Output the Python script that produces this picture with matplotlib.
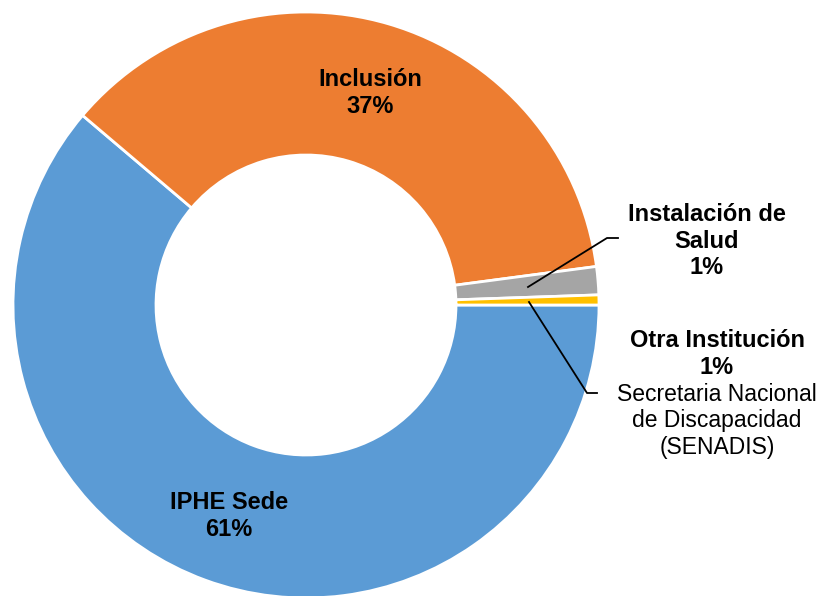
import matplotlib.pyplot as plt

plt.rcParams['font.family'] = ['Liberation Sans', 'DejaVu Sans']

# Datos del gráfico (porcentaje por lugar)
categorias = ['IPHE Sede', 'Inclusión', 'Instalación de Salud', 'Otra Institución']
valores = [61.2, 36.7, 1.55, 0.55]
etiquetas_pct = ['61%', '37%', '1%', '1%']
colores = ['#5B9BD5', '#ED7D31', '#A5A5A5', '#FFC000']

W, H = 827, 596
fig = plt.figure(figsize=(W / 100, H / 100), dpi=100)
ax = fig.add_axes([0, 0, 1, 1])

def py(y):
    # convierte coordenada de pixel (desde arriba) a coordenada de datos
    return H - y

cx, cy, R = 306, py(305), 293
ax.pie(valores, colors=colores, startangle=0, counterclock=False,
       center=(cx, cy), radius=R, frame=True,
       wedgeprops=dict(width=R - 150, edgecolor='white', linewidth=2.0))
ax.set_xlim(0, W)
ax.set_ylim(0, H)
ax.set_aspect('equal')
ax.axis('off')

fs = 17
ls = 1.22
# etiquetas internas
ax.text(370, py(93), f'{categorias[1]}\n{etiquetas_pct[1]}', ha='center', va='center',
        fontsize=fs, fontweight='bold', linespacing=ls)
ax.text(229, py(516), f'{categorias[0]}\n{etiquetas_pct[0]}', ha='center', va='center',
        fontsize=fs, fontweight='bold', linespacing=ls)

# etiquetas externas
ax.text(707, py(241), f'Instalación de\nSalud\n{etiquetas_pct[2]}', ha='center', va='center',
        fontsize=fs, fontweight='bold', linespacing=ls)
ax.text(717, py(354), f'{categorias[3]}\n{etiquetas_pct[3]}', ha='center', va='center',
        fontsize=fs, fontweight='bold', linespacing=ls)
ax.text(717, py(421), 'Secretaria Nacional\nde Discapacidad\n(SENADIS)', ha='center', va='center',
        fontsize=16.5, linespacing=1.18)

# líneas guía
ax.plot([528, 607, 618], [py(287), py(238), py(238)], color='black', lw=1.3)
ax.plot([529, 587, 597], [py(302), py(393), py(393)], color='black', lw=1.3)

fig.savefig('out.png', dpi=100)
